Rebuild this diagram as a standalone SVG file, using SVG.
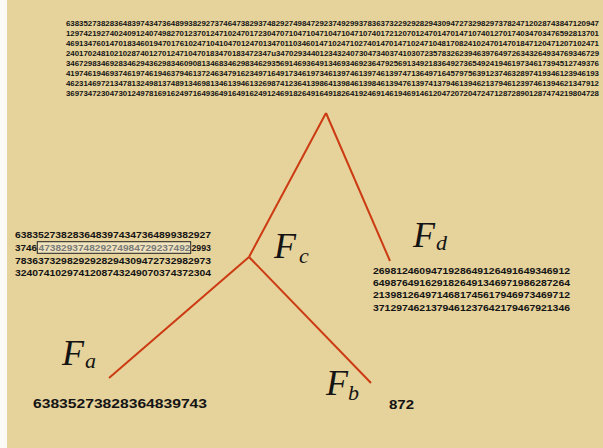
<svg xmlns="http://www.w3.org/2000/svg" width="603" height="448" viewBox="0 0 603 448">
<style>
.num{font-family:"Liberation Sans",Arial,sans-serif;font-weight:bold;fill:#141414}
.top{font-size:7.6px}
.blk{font-size:9.6px}
.big{font-size:13px}
.gray{fill:#7a7a7a;font-weight:bold}
.edge{stroke:#cc3a12;stroke-width:2;fill:none;stroke-linecap:butt}
.lab{font-family:"Liberation Serif","DejaVu Serif",serif;font-style:italic;fill:#141414;font-size:36px}
.sub{font-size:22px}
</style>
<rect width="603" height="448" fill="#fbfaf6"/>
<rect x="7" width="596" height="448" fill="#e6d29b"/>
<g id="connectors">
<path class="edge" d="M326,113 L249,257"/>
<path class="edge" d="M326,113 L390,261"/>
<path class="edge" d="M249,257 L109,378"/>
<path class="edge" d="M249,257 L371,383"/>
</g>
<g id="root" class="num top">
<text x="66" y="25.5" textLength="533" lengthAdjust="spacingAndGlyphs">63835273828364839743473648993829273746473829374829274984729237492993783637322929282943094727329829737824712028743847120947</text>
<text x="66" y="35.5" textLength="533" lengthAdjust="spacingAndGlyphs">12974219274024091240749827012370124710247017230470710471047104710471074017212070124701470147107401270174034703476592813701</text>
<text x="66" y="45.5" textLength="533" lengthAdjust="spacingAndGlyphs">46913476014701834601947017610247104104701247013470110346014710247102740147014710247104817082410247014701847120471207102471</text>
<text x="66" y="55.5" textLength="533" lengthAdjust="spacingAndGlyphs">24017024810210287401270124710470183470183472347u34702934401234324073047340374103072357832623946397649726343264934769346729</text>
<text x="66" y="65.5" textLength="533" lengthAdjust="spacingAndGlyphs">34672983469283462943629834609081346834629834629356914693649134693469236479256913492183649273654924194619734617394512749376</text>
<text x="66" y="75.5" textLength="533" lengthAdjust="spacingAndGlyphs">41974619469374619746194637946137246347916234971649173461973461397461397461397471364971645797563912374632897419346123946193</text>
<text x="66" y="85.5" textLength="533" lengthAdjust="spacingAndGlyphs">46231469721347813249813748913469813461394613269874123641398641398461398461394761397413794613946213794612397461394621347912</text>
<text x="66" y="95.5" textLength="533" lengthAdjust="spacingAndGlyphs">36973472304730124978169162497164936491649162491246918264916491826419246914619469146120472072047247128728901287474219804728</text>
</g>
<g id="node-c" class="num blk">
<text x="15" y="238" textLength="196" lengthAdjust="spacingAndGlyphs">6383527382836483974347364899382927</text>
<text x="15" y="251" textLength="22" lengthAdjust="spacingAndGlyphs">3746</text>
<rect x="37.3" y="241.7" width="153.4" height="11.6" fill="#efe3bd" stroke="#222" stroke-width="1"/>
<text class="gray" x="38.5" y="251" textLength="152" lengthAdjust="spacingAndGlyphs">473829374829274984729237492</text>
<text x="191.5" y="251" textLength="19.5" lengthAdjust="spacingAndGlyphs">2993</text>
<text x="15" y="263.5" textLength="196" lengthAdjust="spacingAndGlyphs">7836373298292928294309472732982973</text>
<text x="15" y="276" textLength="196" lengthAdjust="spacingAndGlyphs">3240741029741208743249070374372304</text>
</g>
<g id="node-d" class="num blk">
<text x="373" y="273.5" textLength="197" lengthAdjust="spacingAndGlyphs">2698124609471928649126491649346912</text>
<text x="373" y="285.8" textLength="197" lengthAdjust="spacingAndGlyphs">6498764916291826491346971986287264</text>
<text x="373" y="298" textLength="197" lengthAdjust="spacingAndGlyphs">2139812649714681745617946973469712</text>
<text x="373" y="310.5" textLength="197" lengthAdjust="spacingAndGlyphs">3712974621379461237642179467921346</text>
</g>
<g id="node-a" class="num big">
<text x="33" y="408" textLength="174" lengthAdjust="spacingAndGlyphs">63835273828364839743</text>
</g>
<g id="node-b" class="num big">
<text x="389" y="409" textLength="25" lengthAdjust="spacingAndGlyphs">872</text>
</g>
<g id="labels">
<text class="lab" x="62" y="365">F<tspan class="sub" x="85" y="368">a</tspan></text>
<text class="lab" x="326" y="395">F<tspan class="sub" x="348" y="400">b</tspan></text>
<text class="lab" x="274" y="258">F<tspan class="sub" x="299" y="263">c</tspan></text>
<text class="lab" x="413" y="247">F<tspan class="sub" x="436" y="250">d</tspan></text>
</g>
</svg>
